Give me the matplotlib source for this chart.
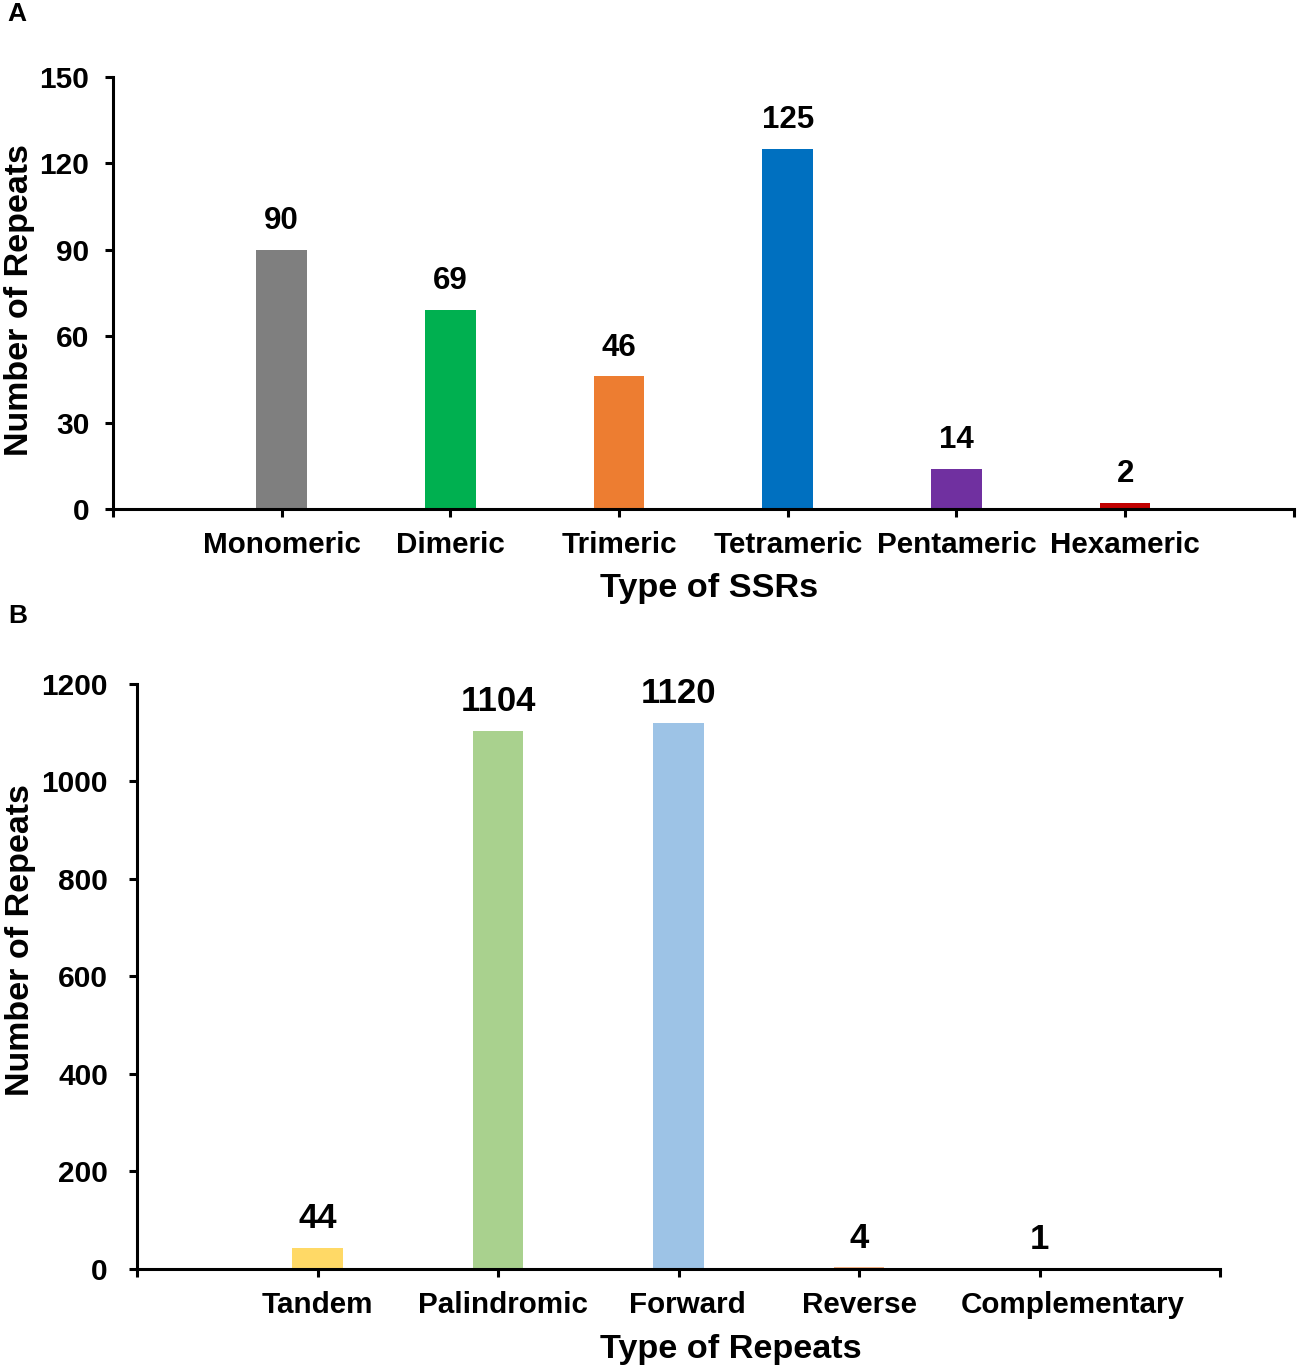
import matplotlib
matplotlib.use("Agg")
from matplotlib import pyplot as plt
from matplotlib.transforms import ScaledTranslation

plt.rcParams['font.family'] = ['Liberation Sans', 'DejaVu Sans']
plt.rcParams['font.weight'] = 'bold'

ssr_types = ["Monomeric", "Dimeric", "Trimeric", "Tetrameric", "Pentameric", "Hexameric"]
ssr_counts = [90, 69, 46, 125, 14, 2]
ssr_colors = ["#7F7F7F", "#00B050", "#ED7D31", "#0070C0", "#7030A0", "#C00000"]

repeat_types = ["Tandem", "Palindromic", "Forward", "Reverse", "Complementary"]
repeat_counts = [44, 1104, 1120, 4, 1]
repeat_colors = ["#FFD966", "#A9D18E", "#9DC3E6", "#F4B183", "#C9C9C9"]

fig = plt.figure(figsize=(12.99, 13.72), dpi=100)


def style_axes(ax, n, ypad):
    for side in ["top", "right"]:
        ax.spines[side].set_visible(False)
    for side in ["left", "bottom"]:
        ax.spines[side].set_linewidth(2.2)
    ax.set_xlim(0, n + 1)
    ax.set_xticks(range(0, n + 2))
    ax.tick_params(axis="both", direction="out", length=6, width=2.2)
    ax.tick_params(axis="y", labelsize=21.5, pad=ypad)
    ax.tick_params(axis="x", labelsize=21.3, pad=10)


# panel A
axA = fig.add_axes([0.087, 0.629, 0.909, 0.315])
xa = list(range(1, len(ssr_types) + 1))
barsA = axA.bar(xa, ssr_counts, width=0.30, color=ssr_colors)
style_axes(axA, len(ssr_types), 11)
axA.set_xticklabels([""] + ssr_types + [""])
axA.set_ylim(0, 150)
axA.set_yticks([0, 30, 60, 90, 120, 150])
for b, v in zip(barsA, ssr_counts):
    axA.annotate(str(v), (b.get_x() + b.get_width() / 2, v), xytext=(0, 10),
                 textcoords="offset points", ha="center", va="bottom",
                 fontsize=22.5, fontweight="bold")
axA.set_xlabel("Type of SSRs", fontsize=24.7, fontweight="bold", va="center")
axA.xaxis.set_label_coords(0.505, -0.183)
axA.set_ylabel("Number of Repeats", fontsize=24.5, fontweight="bold", va="center")
axA.yaxis.set_label_coords(-0.079, 0.484)

# panel B
axB = fig.add_axes([0.1055, 0.0751, 0.8337, 0.4264])
xb = list(range(1, len(repeat_types) + 1))
barsB = axB.bar(xb, repeat_counts, width=0.28, color=repeat_colors)
style_axes(axB, len(repeat_types), 15)
axB.set_xticklabels([""] + repeat_types + [""])
axB.set_ylim(0, 1200)
axB.set_yticks(range(0, 1201, 200))
for b, v in zip(barsB, repeat_counts):
    axB.annotate(str(v), (b.get_x() + b.get_width() / 2, v), xytext=(0, 9),
                 textcoords="offset points", ha="center", va="bottom",
                 fontsize=25, fontweight="bold")
axB.set_xlabel("Type of Repeats", fontsize=24.7, fontweight="bold", va="center")
axB.xaxis.set_label_coords(0.548, -0.138)
axB.set_ylabel("Number of Repeats", fontsize=24.5, fontweight="bold", va="center")
axB.yaxis.set_label_coords(-0.108, 0.562)

# some category labels sit a bit to the right of their ticks in the original
label_shift = {2: 0.05, 3: 0.09, 5: 0.33}
labels = axB.get_xticklabels()
for i, dx in label_shift.items():
    labels[i].set_transform(labels[i].get_transform() + ScaledTranslation(dx, 0, fig.dpi_scale_trans))

fig.text(0.006, 0.990, "A", fontsize=19, fontweight="bold", va="center")
fig.text(0.006, 0.551, "B", fontsize=19, fontweight="bold", va="center")

fig.savefig("out.png", dpi=100)
